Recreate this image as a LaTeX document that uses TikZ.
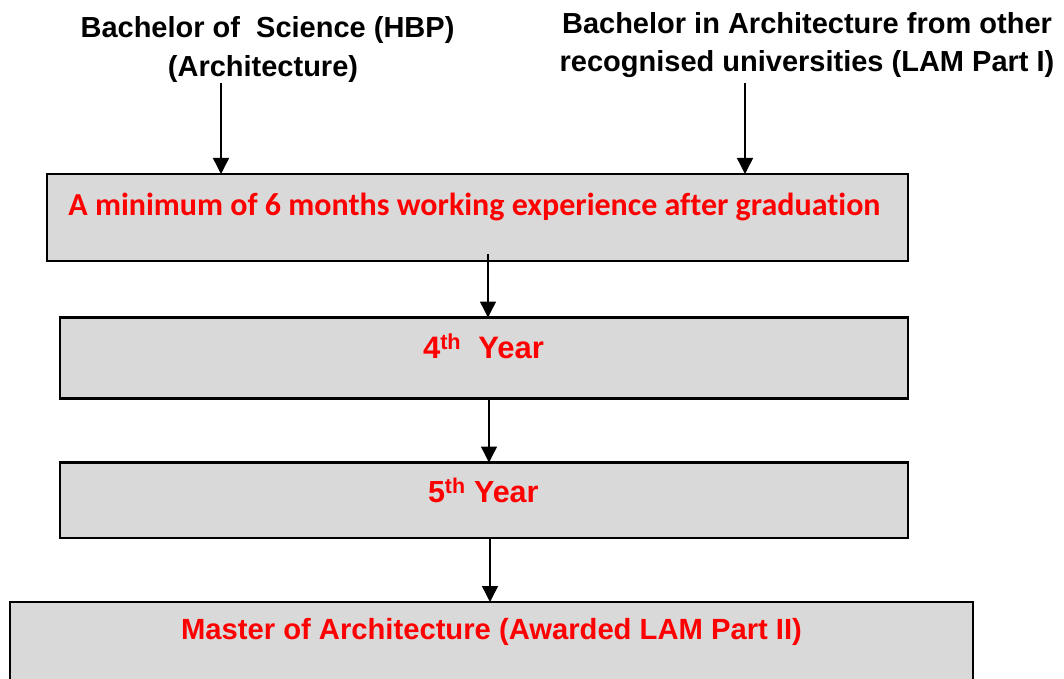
\documentclass[tikz,border=0pt]{standalone}
\usepackage{fontspec}
\setmainfont{Liberation Sans}
\newfontfamily\calfont[Ligatures=NoCommon]{Carlito}
\usetikzlibrary{arrows.meta}
\definecolor{boxgray}{HTML}{D9D9D9}
\definecolor{txtred}{HTML}{FF0000}
\begin{document}
\begin{tikzpicture}[x=1pt,y=-1pt,
  stagebox/.style={draw=black, fill=boxgray, line width=2.2pt, inner sep=0pt, outer sep=0pt},
  toptxt/.style={anchor=base, inner sep=0pt, font=\fontsize{29}{34}\selectfont\bfseries},
  redtxt/.style={anchor=base, inner sep=0pt, text=txtred, font=\fontsize{29.2}{34}\selectfont\bfseries},
  arr/.style={line width=1.4pt, -{Triangle[length=16pt,width=16pt]}}]
\useasboundingbox (0,0) rectangle (1064,679);
\clip (0,0) rectangle (1064,679);
% boxes
\node[stagebox, minimum width=861pt, minimum height=87pt] (b1) at (477.5,217.5) {};
\node[stagebox, minimum width=848pt, minimum height=81pt] (b2) at (484,358) {};
\node[stagebox, minimum width=848pt, minimum height=75.5pt] (b3) at (484,500.25) {};
\node[stagebox, minimum width=963pt, minimum height=98pt] (b4) at (491.5,651) {};
% top texts
\node[toptxt] (l1) at (267.5,37.7) {Bachelor of\ \ Science (HBP)};
\node[toptxt] (l2) at (263,76.7) {(Architecture)};
\node[toptxt] (r1) at (807,33.3) {Bachelor in Architecture from other};
\node[toptxt] (r2) at (807,71.7) {recognised universities (LAM Part I)};
% box texts
\node[redtxt, font=\fontsize{32}{37}\selectfont\calfont\bfseries] (t1) at (474.5,215) {A minimum of 6 months working experience after graduation};
\node[redtxt, font=\fontsize{31}{36}\selectfont\bfseries] (t2) at (483.5,358.3) {4\textsuperscript{th}\ \ Year};
\node[redtxt, font=\fontsize{30.5}{36}\selectfont\bfseries] (t3) at (483.3,502.7) {5\textsuperscript{th} Year};
\node[redtxt] (t4) at (491.5,639) {Master of Architecture (Awarded LAM Part II)};
% arrows
\coordinate (s1) at (221,83);
\coordinate (s2) at (745,83);
\coordinate (s3) at (488,254);
\draw[arr] (s1) -- (s1 |- b1.north);
\draw[arr] (s2) -- (s2 |- b1.north);
\draw[arr] (s3) -- (s3 |- b2.north);
\draw[arr] ([xshift=5pt]b2.south) -- ([xshift=5pt]b2.south |- b3.north);
\draw[arr] ([xshift=6pt]b3.south) -- ([xshift=6pt]b3.south |- b4.north);
\end{tikzpicture}
\end{document}
